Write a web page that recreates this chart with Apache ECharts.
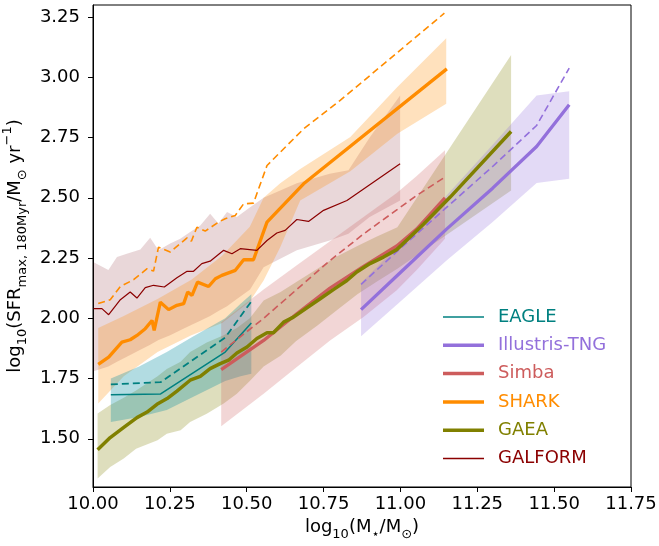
<!DOCTYPE html>
<html>
<head>
<meta charset="utf-8">
<script src="https://cdn.jsdelivr.net/npm/echarts@6/dist/echarts.min.js"></script>
<style>
  html, body { margin: 0; padding: 0; background: #fff; }
  #chart { width: 659px; height: 546px; }
</style>
</head>
<body>
<div id="chart"></div>
<script>
// ---- data (log10 M*, log10 SFR) ----
const xTicks = [10.00, 10.25, 10.50, 10.75, 11.00, 11.25, 11.50, 11.75];
const yTicks = [1.50, 1.75, 2.00, 2.25, 2.50, 2.75, 3.00, 3.25];

// EAGLE
const eagleX = [10.058, 10.22, 10.43, 10.515];
const eagleMed = [1.683, 1.686, 1.86, 1.98];
const eagleDash = [1.726, 1.735, 1.92, 2.07];
const eagleBandX = [10.058, 10.15, 10.24, 10.32, 10.43, 10.48, 10.515];
const eagleLo = [1.57, 1.59, 1.62, 1.67, 1.74, 1.76, 1.77];
const eagleHi = [1.75, 1.80, 1.86, 1.92, 2.00, 2.06, 2.10];

// Illustris-TNG
const tngX = [10.872, 11.0, 11.15, 11.3, 11.443, 11.549];
const tngMed = [2.036, 2.19, 2.37, 2.54, 2.713, 2.886];
const tngDash = [2.141, 2.29, 2.46, 2.63, 2.80, 3.038];
const tngLo = [1.926, 2.07, 2.24, 2.40, 2.561, 2.579];
const tngHi = [2.146, 2.31, 2.51, 2.72, 2.925, 2.942];

// Simba
const simbaX = [10.417, 10.555, 10.663, 10.771, 10.88, 10.988, 11.053, 11.145];
const simbaMed = [1.787, 1.908, 2.019, 2.125, 2.215, 2.30, 2.37, 2.50];
const simbaDash = [1.86, 2.00, 2.12, 2.24, 2.35, 2.45, 2.51, 2.586];
const simbaLo = [1.552, 1.687, 1.798, 1.908, 2.005, 2.116, 2.20, 2.33];
const simbaHi = [1.984, 2.12, 2.22, 2.32, 2.42, 2.52, 2.59, 2.697];

// SHARK
const sharkX = [10.017, 10.051, 10.094, 10.121, 10.143, 10.17, 10.192, 10.199, 10.219, 10.246, 10.273, 10.295,
  10.308, 10.322, 10.34, 10.376, 10.398, 10.419, 10.463, 10.49, 10.522, 10.566, 10.685, 11.151];
const sharkMed = [1.809, 1.839, 1.901, 1.911, 1.929, 1.957, 1.991, 1.95, 2.067, 2.036, 2.054, 2.061,
  2.109, 2.095, 2.15, 2.132, 2.164, 2.178, 2.199, 2.243, 2.243, 2.399, 2.558, 3.035];
const sharkDashX = [10.017, 10.056, 10.089, 10.132, 10.176, 10.197, 10.213, 10.251, 10.284, 10.306, 10.32,
  10.338, 10.365, 10.408, 10.43, 10.463, 10.49, 10.522, 10.566, 10.685, 10.804, 11.143];
const sharkDash = [2.061, 2.077, 2.132, 2.16, 2.206, 2.196, 2.295, 2.275, 2.31, 2.334, 2.32,
  2.378, 2.362, 2.399, 2.413, 2.427, 2.475, 2.478, 2.634, 2.786, 2.904, 3.266];
const sharkBandX = [10.017, 10.10, 10.21, 10.32, 10.42, 10.51, 10.555, 10.609, 10.674, 10.837, 10.99, 11.149];
const sharkLo = [1.646, 1.76, 1.86, 1.93, 1.98, 2.07, 2.157, 2.295, 2.489, 2.61, 2.766, 2.89];
const sharkHi = [1.96, 2.01, 2.08, 2.16, 2.26, 2.38, 2.50, 2.56, 2.62, 2.752, 2.96, 3.162];

// GAEA
const gaeaX = [10.015, 10.056, 10.099, 10.143, 10.176, 10.208, 10.241, 10.273, 10.316, 10.349, 10.381, 10.414,
  10.441, 10.468, 10.501, 10.533, 10.566, 10.587, 10.62, 10.652, 10.696, 10.739, 10.782, 10.826, 10.858,
  10.901, 10.945, 10.988, 11.075, 11.162, 11.36];
const gaeaMed = [1.455, 1.505, 1.546, 1.588, 1.611, 1.643, 1.667, 1.698, 1.743, 1.759, 1.791, 1.812,
  1.826, 1.856, 1.881, 1.916, 1.940, 1.940, 1.984, 2.005, 2.044, 2.081, 2.119, 2.157, 2.192,
  2.227, 2.254, 2.285, 2.39, 2.503, 2.775];
const gaeaBandX = [10.015, 10.056, 10.10, 10.14, 10.21, 10.24, 10.285, 10.316, 10.37, 10.425, 10.468, 10.51,
  10.555, 10.61, 10.66, 10.73, 10.79, 10.86, 10.92, 10.99, 11.36];
const gaeaLo = [1.335, 1.383, 1.418, 1.459, 1.494, 1.521, 1.535, 1.570, 1.604, 1.646, 1.687, 1.74,
  1.80, 1.845, 1.905, 1.97, 2.03, 2.10, 2.15, 2.206, 2.53];
const gaeaHi = [1.605, 1.64, 1.67, 1.70, 1.76, 1.79, 1.82, 1.86, 1.90, 1.93, 1.96, 2.00,
  2.074, 2.109, 2.15, 2.206, 2.254, 2.30, 2.337, 2.378, 3.093];

// GALFORM
const galformX = [10.002, 10.029, 10.051, 10.089, 10.121, 10.143, 10.17, 10.197, 10.232, 10.273, 10.306, 10.327,
  10.354, 10.381, 10.425, 10.452, 10.479, 10.533, 10.566, 10.598, 10.625, 10.663, 10.701, 10.75, 10.826, 10.999];
const galformMed = [2.04, 2.04, 2.015, 2.077, 2.109, 2.084, 2.127, 2.137, 2.13, 2.168, 2.195, 2.195,
  2.227, 2.237, 2.282, 2.268, 2.289, 2.282, 2.323, 2.354, 2.365, 2.41, 2.402, 2.448, 2.489, 2.641];
const galformBandX = [10.002, 10.05, 10.078, 10.11, 10.154, 10.186, 10.213, 10.251, 10.284, 10.316, 10.349,
  10.381, 10.408, 10.436, 10.468, 10.511, 10.555, 10.663, 10.77, 10.831, 10.9, 10.999];
const galformLo = [1.78, 1.80, 1.82, 1.84, 1.87, 1.89, 1.91, 1.93, 1.95, 1.97, 1.99,
  2.01, 2.03, 2.05, 2.08, 2.12, 2.212, 2.282, 2.323, 2.351, 2.42, 2.489];
const galformHi = [2.233, 2.20, 2.254, 2.268, 2.285, 2.334, 2.282, 2.31, 2.33, 2.358, 2.385,
  2.434, 2.393, 2.441, 2.42, 2.461, 2.50, 2.56, 2.60, 2.614, 2.75, 2.925];

const FONT = 'DejaVu Sans';

const pairs = (xs, ys) => xs.map((x, i) => [x, ys[i]]);

// shaded range drawn as one polygon through the axis scales
function band(name, xs, lo, hi, fill) {
  return {
    type: 'custom',
    name: name,
    silent: true,
    z: 1,
    clip: true,
    data: xs.map((x, i) => [x, lo[i], hi[i]]),
    encode: { x: 0, y: [1, 2] },
    renderItem(params, api) {
      if (params.dataIndex !== 0) return null;
      const pts = [];
      for (let i = 0; i < xs.length; i++) pts.push(api.coord([xs[i], hi[i]]));
      for (let i = xs.length - 1; i >= 0; i--) pts.push(api.coord([xs[i], lo[i]]));
      return { type: 'polygon', shape: { points: pts }, style: { fill: fill } };
    }
  };
}

function line(name, xs, ys, color, width, dashed) {
  return {
    type: 'line',
    name: name,
    data: pairs(xs, ys),
    symbol: 'none',
    color: color,
    z: 3,
    lineStyle: { color: color, width: width, type: dashed ? [7, 4] : 'solid' }
  };
}

const legendItem = (name, color, w) => ({
  name: name,
  icon: `path://M0,0H41V${w}H0Z`,
  itemStyle: { color: color },
  textStyle: { color: color }
});

const chart = echarts.init(document.getElementById('chart'));
chart.setOption({
  animation: false,
  backgroundColor: '#fff',
  textStyle: { fontFamily: FONT },
  grid: {
    left: 93, right: 28, top: 5, bottom: 59,
    outerBoundsMode: 'none',
    show: true, borderColor: '#000', borderWidth: 1
  },
  legend: {
    orient: 'vertical',
    left: 438,
    top: 302,
    selectedMode: false,
    itemWidth: 41,
    itemHeight: 14,
    itemGap: 8.3,
    itemStyle: { borderWidth: 0 },
    textStyle: { fontFamily: FONT, fontSize: 18, lineHeight: 20, padding: [0, 0, 0, 9] },
    data: [
      legendItem('EAGLE', '#008080', 1.5),
      legendItem('Illustris-TNG', '#9370DB', 3.5),
      legendItem('Simba', '#CD5C5C', 3.5),
      legendItem('SHARK', '#FF8C00', 3.5),
      legendItem('GAEA', '#808000', 3.5),
      legendItem('GALFORM', '#8B0000', 1.4)
    ]
  },
  xAxis: {
    type: 'value',
    min: 10, max: 11.75, interval: 0.25,
    splitLine: { show: false },
    axisLine: { lineStyle: { color: '#000', width: 1 } },
    axisTick: { show: true, inside: false, length: 5, lineStyle: { color: '#000' }, customValues: xTicks },
    axisLabel: { color: '#000', fontSize: 18, fontFamily: FONT, margin: 8, customValues: xTicks,
      formatter: v => v.toFixed(2) },
    name: '{a|log}{s|10}{a|(M}{s|⋆}{a|/M}{s|⊙}{a|)}',
    nameLocation: 'middle',
    nameGap: 25,
    nameTextStyle: {
      color: '#000',
      rich: {
        a: { fontFamily: FONT, fontSize: 18, lineHeight: 28, color: '#000' },
        s: { fontFamily: FONT, fontSize: 13, lineHeight: 15, verticalAlign: 'bottom', color: '#000' }
      }
    }
  },
  yAxis: {
    type: 'value',
    min: 1.30, max: 3.30,
    splitLine: { show: false },
    axisLine: { show: true, lineStyle: { color: '#000', width: 1 } },
    axisTick: { show: true, inside: false, length: 5, lineStyle: { color: '#000' }, customValues: yTicks },
    axisLabel: { color: '#000', fontSize: 18, fontFamily: FONT, margin: 13, customValues: yTicks,
      formatter: v => v.toFixed(2) },
    name: '{a|log}{s|10}{a|(SFR}{s|max, 180Myr}{a|/M}{s|⊙}{a| yr}{p|−1}{a|)}',
    nameLocation: 'middle',
    nameRotate: 90,
    nameGap: 62,
    nameTextStyle: {
      color: '#000',
      rich: {
        a: { fontFamily: FONT, fontSize: 18, lineHeight: 28, color: '#000' },
        s: { fontFamily: FONT, fontSize: 13, lineHeight: 15, verticalAlign: 'bottom', color: '#000' },
        p: { fontFamily: FONT, fontSize: 13, lineHeight: 15, verticalAlign: 'top', color: '#000' }
      }
    }
  },
  series: [
    band('GALFORM band', galformBandX, galformLo, galformHi, 'rgba(125,20,30,0.17)'),
    band('SHARK band', sharkBandX, sharkLo, sharkHi, 'rgba(255,140,0,0.26)'),
    band('GAEA band', gaeaBandX, gaeaLo, gaeaHi, 'rgba(128,128,0,0.26)'),
    band('EAGLE band', eagleBandX, eagleLo, eagleHi, 'rgba(0,140,160,0.3)'),
    band('Simba band', simbaX, simbaLo, simbaHi, 'rgba(205,92,92,0.25)'),
    band('TNG band', tngX, tngLo, tngHi, 'rgba(147,112,219,0.26)'),

    line('EAGLE', eagleX, eagleMed, '#008080', 1.5, false),
    line('EAGLE dashed', eagleX, eagleDash, '#008080', 1.8, true),
    line('Illustris-TNG', tngX, tngMed, '#9370DB', 3.3, false),
    line('Illustris-TNG dashed', tngX, tngDash, '#9370DB', 1.6, true),
    line('Simba', simbaX, simbaMed, '#CD5C5C', 3.3, false),
    line('Simba dashed', simbaX, simbaDash, '#CD5C5C', 1.6, true),
    line('SHARK', sharkX, sharkMed, '#FF8C00', 3.3, false),
    line('SHARK dashed', sharkDashX, sharkDash, '#FF8C00', 1.6, true),
    line('GAEA', gaeaX, gaeaMed, '#808000', 3.5, false),
    line('GALFORM', galformX, galformMed, '#8B0000', 1.2, false)
  ]
});
</script>
</body>
</html>
